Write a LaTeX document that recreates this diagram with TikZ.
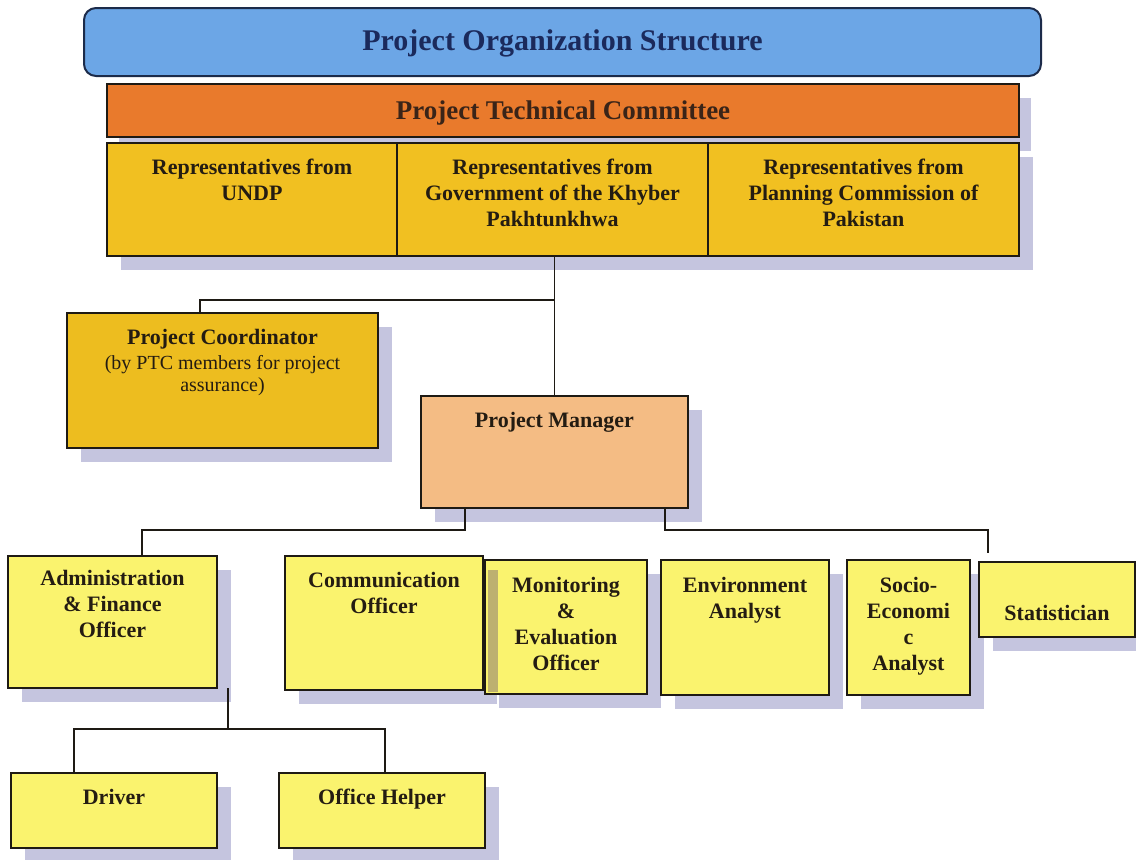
\documentclass[tikz,border=0pt]{standalone}
\usepackage{fontspec}
\setmainfont{Liberation Serif}
\usetikzlibrary{shadows,positioning}
\definecolor{titlefill}{HTML}{6CA6E6}
\definecolor{titleline}{HTML}{1C2B4A}
\definecolor{titletext}{HTML}{1B2A5C}
\definecolor{ptcfill}{HTML}{E97A2C}
\definecolor{ptctext}{HTML}{3A2418}
\definecolor{repfill}{HTML}{F1C021}
\definecolor{pcfill}{HTML}{EDBD1F}
\definecolor{pmfill}{HTML}{F4BC84}
\definecolor{yel}{HTML}{FAF36E}
\definecolor{shadowc}{HTML}{C5C5DF}
\definecolor{khaki}{HTML}{BDB070}
\definecolor{boxline}{HTML}{1E1A14}
\definecolor{txt}{HTML}{241C12}
\begin{document}
\begin{tikzpicture}[x=1pt,y=-1pt,
  box/.style={draw=boxline, line width=1.4pt, inner sep=0pt, outer sep=0pt, rectangle, anchor=north west},
  shad/.style={drop shadow={shadow xshift=14pt, shadow yshift=-14pt, fill=shadowc, opacity=1}},
  lbl/.style={anchor=north, inner sep=0pt, outer sep=0pt, align=center, text=txt, font=\fontsize{22}{26}\selectfont\bfseries},
  sublbl/.style={anchor=north, inner sep=0pt, outer sep=0pt, align=center, text=txt, font=\fontsize{20}{22}\selectfont},
  conn/.style={draw=boxline, line width=1.4pt}
]
\useasboundingbox (0,0) rectangle (1136,860);

% title
\node[box, rounded corners=12pt, line width=2pt, draw=titleline, fill=titlefill, minimum width=957, minimum height=68] (title) at (84,8) {};
\node[inner sep=0pt, text=titletext, font=\fontsize{30}{34}\selectfont\bfseries] (titleT) at ([yshift=-1pt]title.center) {Project Organization Structure};

% PTC
\node[box, drop shadow={shadow xshift=12pt, shadow yshift=-14pt, fill=shadowc, opacity=1}, fill=ptcfill, minimum width=912, minimum height=53] (ptc) at (107,84) {};
\node[inner sep=0pt, text=ptctext, font=\fontsize{27}{30}\selectfont\bfseries] (ptcT) at ([yshift=-3pt]ptc.center) {Project Technical Committee};

% representatives
\node[box, shad, fill=repfill, minimum width=290, minimum height=113] (rep1) at (107,143) {};
\node[box, shad, fill=repfill, minimum width=311, minimum height=113] (rep2) at (397,143) {};
\node[box, shad, fill=repfill, minimum width=311, minimum height=113] (rep3) at (708,143) {};
\node[lbl, below=16pt of rep1.north] (rep1T) {Representatives from\\UNDP};
\node[lbl, below=16pt of rep2.north] (rep2T) {Representatives from\\Government of the Khyber\\Pakhtunkhwa};
\node[lbl, below=16pt of rep3.north] (rep3T) {Representatives from\\Planning Commission of\\Pakistan};

% project coordinator
\node[box, shad, fill=pcfill, minimum width=311, minimum height=135] (pc) at (67,313) {};
\node[lbl, below=16pt of pc.north] (pcT) {Project Coordinator};
\node[sublbl, below=6pt of pcT.south] (pcS) {(by PTC members for project\\assurance)};

% project manager
\node[box, shad, fill=pmfill, minimum width=267, minimum height=112] (pm) at (421,396) {};
\node[lbl, below=16pt of pm.north] (pmT) {Project Manager};

% staff
\node[box, shad, fill=yel, minimum width=209, minimum height=132] (adm) at (8,556) {};
\node[lbl, below=14pt of adm.north] (admT) {Administration\\\&~Finance\\Officer};
\node[box, shad, fill=yel, minimum width=198, minimum height=134] (com) at (285,556) {};
\node[lbl, below=16pt of com.north] (comT) {Communication\\Officer};
\node[box, shad, fill=yel, minimum width=162, minimum height=134] (mne) at (485,560) {};
\node[lbl, below=17pt of mne.north] (mneT) {Monitoring\\\&\\Evaluation\\Officer};
\fill[khaki] (488,570) rectangle (498,692);
\node[box, shad, fill=yel, minimum width=168, minimum height=135] (env) at (661,560) {};
\node[lbl, below=17pt of env.north] (envT) {Environment\\Analyst};
\node[box, shad, fill=yel, minimum width=123, minimum height=135] (soc) at (847,560) {};
\node[lbl, below=17pt of soc.north] (socT) {Socio-\\Economi\\c\\Analyst};
\node[box, shad, fill=yel, minimum width=156, minimum height=75] (stat) at (979,562) {};
\node[lbl, below=43pt of stat.north] (statT) {Statistician};

\node[box, shad, fill=yel, minimum width=206, minimum height=75] (drv) at (11,773) {};
\node[lbl, below=16pt of drv.north] (drvT) {Driver};
\node[box, shad, fill=yel, minimum width=206, minimum height=75] (ofh) at (279,773) {};
\node[lbl, below=16pt of ofh.north] (ofhT) {Office Helper};

% connectors
\draw[conn] (rep2.south -| pm.north) -- (pm.north);
\coordinate (jpc) at (pm.north |- 0,300);
\draw[conn] (jpc) -| ([xshift=133pt]pc.north west);
\draw[conn] ([xshift=44pt]pm.south west) -- ++(0,22) -| ([xshift=134pt]adm.north west);
\draw[conn] ([xshift=-23pt]pm.south east) -- ++(0,22) -| ([xshift=9pt,yshift=9pt]stat.north west);
\path ([xshift=11pt]adm.south east) ++(0,41) coordinate (ja);
\draw[conn] ([xshift=11pt]adm.south east) -- (ja);
\draw[conn] (ja) -| ([xshift=63pt]drv.north west);
\draw[conn] (ja) -| ([xshift=106pt]ofh.north west);
\end{tikzpicture}
\end{document}
